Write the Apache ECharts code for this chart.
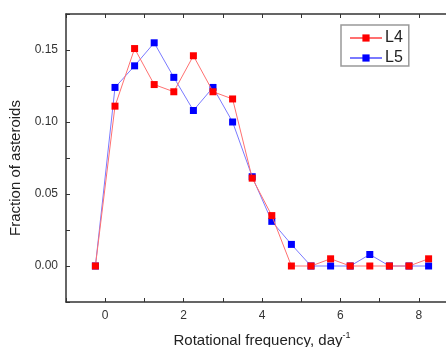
<!DOCTYPE html>
<html>
<head>
<meta charset="utf-8">
<script src="https://cdn.jsdelivr.net/npm/echarts@6/dist/echarts.min.js"></script>
<style>
  html, body { margin: 0; padding: 0; background: #fff; }
  #chart { width: 446px; height: 347px; }
</style>
</head>
<body>
<div id="chart"></div>
<script>
  // bin centres, day^-1
  var freq = [-0.25, 0.25, 0.75, 1.25, 1.75, 2.25, 2.75, 3.25, 3.75, 4.25, 4.75, 5.25, 5.75, 6.25, 6.75, 7.25, 7.75, 8.25];
  var l4 = [0, 0.111, 0.151, 0.126, 0.121, 0.146, 0.121, 0.116, 0.061, 0.035, 0, 0, 0.005, 0, 0, 0, 0, 0.005];
  var l5 = [0, 0.124, 0.139, 0.155, 0.131, 0.108, 0.124, 0.100, 0.062, 0.031, 0.015, 0, 0, 0, 0.008, 0, 0, 0];
  var xTicks = [0, 2, 4, 6, 8];
  var yTicks = [0, 0.05, 0.10, 0.15];

  function pairs(vals) {
    return freq.map(function (x, i) { return [x, vals[i]] })
  }

  var axisColor = '#333';
  var myChart = echarts.init(document.getElementById('chart'));
  var option = {
    animation: false,
    textStyle: { fontFamily: 'Liberation Sans, Arial, sans-serif' },
    grid: { left: 66, top: 14, bottom: 45, right: -12, outerBoundsMode: 'none', containLabel: false },
    legend: {
      orient: 'vertical',
      left: 341,
      top: 25,
      padding: [5, 6, 0, 8],
      itemWidth: 32,
      itemHeight: 9,
      itemGap: 4,
      borderColor: '#999',
      borderWidth: 1.5,
      data: ['L4', 'L5'],
      textStyle: { fontSize: 16, lineHeight: 16, color: '#222', padding: [0, 0, 0, -2] }
    },
    xAxis: [{
      type: 'value',
      min: -1,
      max: 9,
      interval: 1,
      name: 'Rotational frequency, day{sup|-1}',
      nameLocation: 'middle',
      nameGap: 29,
      nameTextStyle: {
        fontSize: 15, color: '#222',
        rich: { sup: { fontSize: 9, padding: [0, 0, 10, 0], color: '#222' } }
      },
      axisLine: { onZero: false, lineStyle: { color: axisColor, width: 1.5 } },
      axisTick: { inside: true, length: 4, lineStyle: { color: axisColor } },
      splitLine: { show: false },
      axisLabel: {
        fontSize: 12, color: '#333', margin: 8,
        formatter: function (v) { return xTicks.indexOf(v) >= 0 ? String(v) : '' }
      }
    }, {
      type: 'value',
      position: 'top',
      min: -1,
      max: 9,
      interval: 1,
      axisLine: { onZero: false, lineStyle: { color: axisColor, width: 1.5 } },
      axisTick: { inside: true, length: 4, lineStyle: { color: axisColor } },
      axisLabel: { show: false },
      splitLine: { show: false }
    }],
    yAxis: {
      type: 'value',
      min: -0.025,
      max: 0.175,
      interval: 0.025,
      name: 'Fraction of asteroids',
      nameLocation: 'middle',
      nameGap: 38,
      nameTextStyle: { fontSize: 15, color: '#222', padding: [0, 20, 0, 0] },
      axisLine: { show: true, onZero: false, lineStyle: { color: axisColor, width: 1.5 } },
      axisTick: { show: true, inside: true, length: 4, lineStyle: { color: axisColor } },
      splitLine: { show: false },
      axisLabel: {
        fontSize: 12, color: '#333', margin: 8,
        formatter: function (v) {
          for (var i = 0; i < yTicks.length; i++) {
            if (Math.abs(yTicks[i] - v) < 1e-6) return yTicks[i].toFixed(2)
          }
          return ''
        }
      }
    },
    series: [
      {
        name: 'L5',
        type: 'line',
        data: pairs(l5),
        symbol: 'rect',
        symbolSize: 7,
        z: 2,
        itemStyle: { color: '#0000ff' },
        lineStyle: { color: '#7a7aff', width: 1 }
      },
      {
        name: 'L4',
        type: 'line',
        data: pairs(l4),
        symbol: 'rect',
        symbolSize: 7,
        z: 3,
        itemStyle: { color: '#ff0000' },
        lineStyle: { color: '#ff7070', width: 1 }
      }
    ]
  };
  myChart.setOption(option);
</script>
</body>
</html>
